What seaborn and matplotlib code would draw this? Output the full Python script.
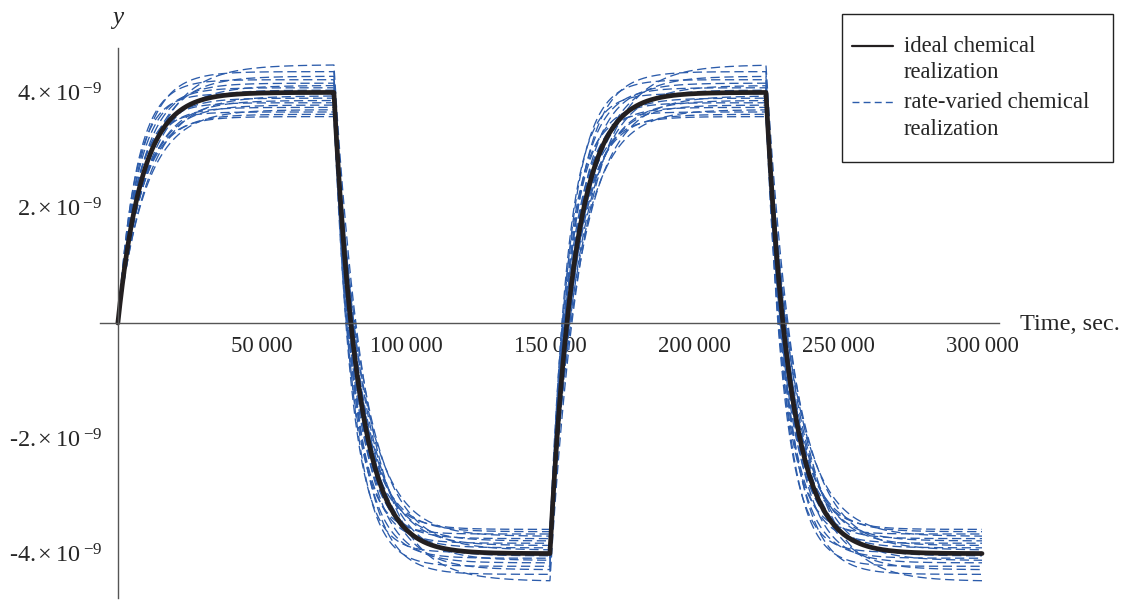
import numpy as np
import pandas as pd
import matplotlib
matplotlib.use("Agg")
import matplotlib.pyplot as plt
import matplotlib.ticker as mticker
from matplotlib.lines import Line2D
from matplotlib.patches import Rectangle
import seaborn as sns

# ---------------- data ----------------
switch_times = [0, 75000, 150000, 225000]     # seconds, input switches
input_signs = [1, -1, 1, -1]                   # square-wave input
t_end = 300000
ideal_level = 4e-9
ideal_tau = 8500.0

# rate-varied realizations: steady-state gain and time constant per curve
varied_gains = [1.12, 1.09, 1.07, 1.055, 1.04, 1.03, 1.02, 1.01, 1.0, 0.995,
                0.985, 0.975, 0.965, 0.955, 0.945, 0.935, 0.925, 0.915, 0.905, 0.895]
varied_taus = [11000, 7500, 9500, 6500, 8000, 10000, 7000, 9000, 8500, 6000,
               10500, 7800, 9200, 6800, 8800, 7200, 9800, 6200, 8200, 7600]

x_major = [50000, 100000, 150000, 200000, 250000, 300000]
y_major = [-4e-9, -2e-9, 2e-9, 4e-9]
y_labels = ["-4.\u200a×\u200910$^{\\,\\mathregular{-9}}$",
            "-2.\u200a×\u200910$^{\\,\\mathregular{-9}}$",
            "2.\u200a×\u200910$^{\\,\\mathregular{-9}}$",
            "4.\u200a×\u200910$^{\\,\\mathregular{-9}}$"]
legend_lines = [["ideal chemical", "realization"],
                ["rate-varied chemical", "realization"]]


def response(t, level, tau):
    """first-order response to the square-wave input"""
    y = np.zeros_like(t)
    y0 = 0.0
    bounds = switch_times + [t_end + 1]
    for k, s in enumerate(input_signs):
        a, b = bounds[k], bounds[k + 1]
        m = (t >= a) & (t < b)
        target = s * level
        y[m] = target + (y0 - target) * np.exp(-(t[m] - a) / tau)
        y0 = target + (y0 - target) * np.exp(-(b - a) / tau)
    return y


t = np.arange(0, t_end + 1, 250.0)
frames = []
for i, (g, tau) in enumerate(zip(varied_gains, varied_taus)):
    frames.append(pd.DataFrame({"t": t, "y": response(t, ideal_level * g, tau), "run": i}))
varied = pd.concat(frames, ignore_index=True)
ideal = pd.DataFrame({"t": t, "y": response(t, ideal_level, ideal_tau)})

# ---------------- figure ----------------
sns.set_style("white")
plt.rcParams["font.family"] = ["Liberation Serif", "DejaVu Serif"]
plt.rcParams["mathtext.default"] = "regular"

W, H = 1126, 600
fig = plt.figure(figsize=(W / 100, H / 100), dpi=100)
ax = fig.add_axes([100 / W, 2 / H, (999 - 100) / W, (598 - 48) / H])

blue = "#2c5cab"
black = "#231f20"
for i in range(len(varied_gains)):
    sns.lineplot(data=varied[varied.run == i], x="t", y="y", ax=ax, color=blue,
                 lw=0.95, linestyle=(0, (7, 3.5)), estimator=None, sort=False,
                 legend=False)
sns.lineplot(data=ideal, x="t", y="y", ax=ax, color=black, lw=3.4,
             estimator=None, sort=False, legend=False)

ax.set_xlim(-6200, 305900)
ax.set_ylim(-4.77e-9, 4.77e-9)
ax.set_xlabel("")
ax.set_ylabel("")

for s in ["top", "right"]:
    ax.spines[s].set_visible(False)
for s in ["left", "bottom"]:
    ax.spines[s].set_position(("data", 0))
    ax.spines[s].set_color("#555555")
    ax.spines[s].set_linewidth(1.0)

ax.xaxis.set_major_locator(mticker.FixedLocator(x_major))
ax.xaxis.set_minor_locator(mticker.FixedLocator(
    [v for v in range(10000, 300001, 10000) if v % 50000 != 0]))
ax.xaxis.set_major_formatter(mticker.FuncFormatter(
    lambda v, p: f"{int(v):,}".replace(",", "\u2009")))
ax.yaxis.set_major_locator(mticker.FixedLocator(y_major))
ax.yaxis.set_major_formatter(mticker.FixedFormatter(y_labels))
ax.yaxis.set_minor_locator(mticker.FixedLocator(
    [v * 1e-9 for v in np.arange(-4.5, 4.51, 0.5) if abs(v) > 1e-6 and v % 2 != 0]))

ax.tick_params(axis="x", which="major", direction="in", length=6.5, width=0.8,
               color="#777777", labelsize=16.5, pad=9.5)
ax.tick_params(axis="x", which="minor", direction="in", length=3.6, width=0.8,
               color="#777777")
ax.tick_params(axis="y", which="major", direction="in", length=7.2, width=0.8,
               color="#777777", labelsize=17.5, pad=11)
ax.tick_params(axis="y", which="minor", direction="in", length=4, width=0.8,
               color="#777777")

fig.text(1020 / W, 1 - 324 / H, "Time, sec.", fontsize=17.5, va="center", ha="left")
fig.text(118 / W, 1 - 18 / H, "y", fontsize=18, style="italic", va="center", ha="center")

# legend box (Mathematica style: handle aligned with first text line)
fx = lambda px: px / W
fy = lambda py: 1 - py / H
fig.patches.append(Rectangle((fx(842), fy(162)), fx(1113) - fx(842), fy(14) - fy(162),
                             transform=fig.transFigure, facecolor="white",
                             edgecolor="#222222", lw=1.0, zorder=5))
fig.lines.append(Line2D([fx(852), fx(893)], [fy(45.5), fy(45.5)],
                        transform=fig.transFigure, color=black, lw=1.6, zorder=6))
fig.lines.append(Line2D([fx(852), fx(893)], [fy(102), fy(102)],
                        transform=fig.transFigure, color=blue, lw=1.0,
                        linestyle=(0, (5, 3)), zorder=6))
baselines = [[51.5, 78.5], [108, 135]]
for lines, bl in zip(legend_lines, baselines):
    for txt, b in zip(lines, bl):
        fig.text(fx(904), fy(b), txt, fontsize=16.3, va="baseline", ha="left",
                 zorder=6)

fig.savefig("out.png", dpi=100)
